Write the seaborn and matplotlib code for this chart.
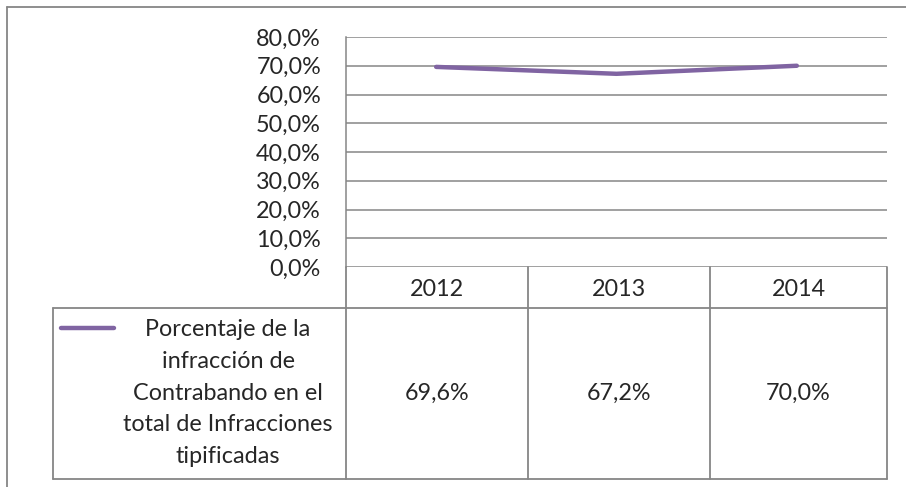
import pandas as pd
import matplotlib.pyplot as plt
import seaborn as sns
from matplotlib.lines import Line2D

years = ['2012', '2013', '2014']
values = [69.6, 67.2, 70.0]
series_name = 'Porcentaje de la\ninfracción de\nContrabando en el\ntotal de Infracciones\ntipificadas'
y_ticks = [0, 10, 20, 30, 40, 50, 60, 70, 80]

df = pd.DataFrame({'x': range(len(years)), 'year': years, 'value': values})

sns.set_style('white')
plt.rcParams['font.family'] = ['Lato', 'DejaVu Sans']

W, H = 906, 487
fig = plt.figure(figsize=(W / 100, H / 100), dpi=100)
grey = '#868686'
purple = '#8064A2'
fs = 16.8

def fx(px):
    return px / W

def fy(py):
    return 1 - py / H

# plot area
ax = fig.add_axes([fx(346), fy(267), fx(887) - fx(346), fy(37) - fy(267)])
sns.lineplot(data=df, x='x', y='value', ax=ax, color=purple, linewidth=3.2,
             solid_capstyle='round', legend=False)
ax.set_xlim(-0.5, len(years) - 0.5)
ax.set_ylim(0, 80)
ax.set_yticks(y_ticks)
ax.set_yticklabels([f'{v:.1f}%'.replace('.', ',') for v in y_ticks], fontsize=fs)
ax.set_xticks([])
ax.tick_params(axis='y', length=0, pad=18)
ax.yaxis.grid(True, color=grey, linewidth=1.1)
ax.set_axisbelow(True)
ax.set_xlabel('')
ax.set_ylabel('')
for s in ['top', 'right', 'bottom']:
    ax.spines[s].set_visible(False)
ax.spines['left'].set_color(grey)
ax.spines['left'].set_linewidth(1.1)

def hline(y, x0, x1):
    fig.add_artist(Line2D([fx(x0), fx(x1)], [fy(y), fy(y)], color=grey, lw=1.3))

def vline(x, y0, y1):
    fig.add_artist(Line2D([fx(x), fx(x)], [fy(y0), fy(y1)], color=grey, lw=1.3))

# outer chart border
hline(7, 7, 906)
vline(7, 7, 487)

# data table
cols = [346, 528, 710, 887]
hline(308, 53, 887)
hline(479, 53, 887)
vline(53, 308, 479)
vline(346, 267, 479)
for c in cols[1:]:
    vline(c, 267, 479)

for i, (yr, v) in enumerate(zip(years, values)):
    cx = (cols[i] + cols[i + 1]) / 2
    fig.text(fx(cx), fy(289), yr, ha='center', va='center', fontsize=fs)
    fig.text(fx(cx), fy(393), f'{v:.1f}%'.replace('.', ','), ha='center', va='center', fontsize=fs)

fig.add_artist(Line2D([fx(61), fx(114)], [fy(328), fy(328)], color=purple, lw=3.2,
                      solid_capstyle='round'))
fig.text(fx(228), fy(393), series_name, ha='center', va='center', fontsize=fs,
         linespacing=1.64)

fig.savefig('out.png', dpi=100)
